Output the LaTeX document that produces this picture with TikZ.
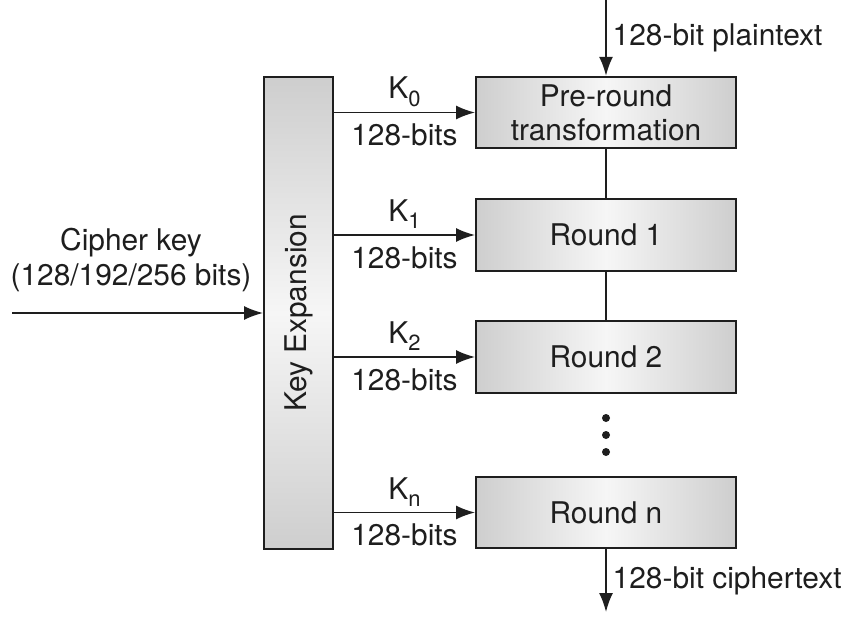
\documentclass[tikz,border=0pt]{standalone}
\usepackage{fontspec}
\setmainfont{TeX Gyre Heros}
\usetikzlibrary{arrows.meta}
\definecolor{boxgray}{RGB}{206,206,206}
\definecolor{boxlight}{RGB}{246,246,246}
\definecolor{ink}{RGB}{30,30,30}
\newcommand{\keysub}[1]{K\raisebox{-0.45ex}{\fontsize{12.5}{13}\selectfont #1}}

\begin{document}
\begin{tikzpicture}[font=\fontsize{17}{19.5}\selectfont,color=ink,
  stage/.style={draw,line width=1.1pt,minimum width=5.2cm,minimum height=1.43cm,
    align=center,left color=boxgray,right color=boxgray,middle color=boxlight,text=ink},
  feed/.style={line width=1pt,-{Latex[length=3.8mm,width=2.8mm]}},
  link/.style={line width=1pt}]
  \useasboundingbox (0,0) rectangle (16.96,-12.38);
  % Key expansion bar
  \node[draw,line width=1.1pt,minimum width=1.38cm,minimum height=9.44cm,
    top color=boxgray,bottom color=boxgray,middle color=boxlight] (kexp) at (5.97,-6.26) {};
  \node[rotate=90] (kexplabel) at (kexp.center) {Key Expansion};
  % Rounds
  \node[stage] (pre) at (12.12,-2.25) {Pre-round\\transformation};
  \node[stage] (r1) at (12.12,-4.70) {Round 1};
  \node[stage] (r2) at (12.12,-7.14) {Round 2};
  \node[stage] (rn) at (12.12,-10.25) {Round n};
  \draw[link] (pre) -- (r1);
  \draw[link] (r1) -- (r2);
  \foreach \y in {-8.36,-8.70,-9.04}
    \fill (12.12,\y) circle (0.08);
  % Round keys
  \foreach \b/\k in {pre/0,r1/1,r2/2,rn/n}
    \draw[feed] (kexp.east |- \b.west) -- (\b.west)
      node[midway,above=1pt,inner sep=2pt] (k\b) {\keysub{\k}}
      node[midway,below=4pt,inner sep=2pt] (bits\b) {128-bits};
  % Cipher key in
  \coordinate (keyin) at (0.24,-6.26);
  \draw[feed] (keyin) -- (kexp.west);
  \node[align=center] (keylabel) at (2.62,-5.2) {Cipher key\\(128/192/256 bits)};
  % Plaintext in, ciphertext out
  \coordinate (ptin) at (12.12,0);
  \coordinate (ctout) at (12.12,-12.24);
  \draw[feed] (ptin) -- (pre.north) node[midway,right] (ptlabel) {128-bit plaintext};
  \draw[feed] (rn.south) -- (ctout) node[midway,right] (ctlabel) {128-bit ciphertext};
\end{tikzpicture}
\end{document}
